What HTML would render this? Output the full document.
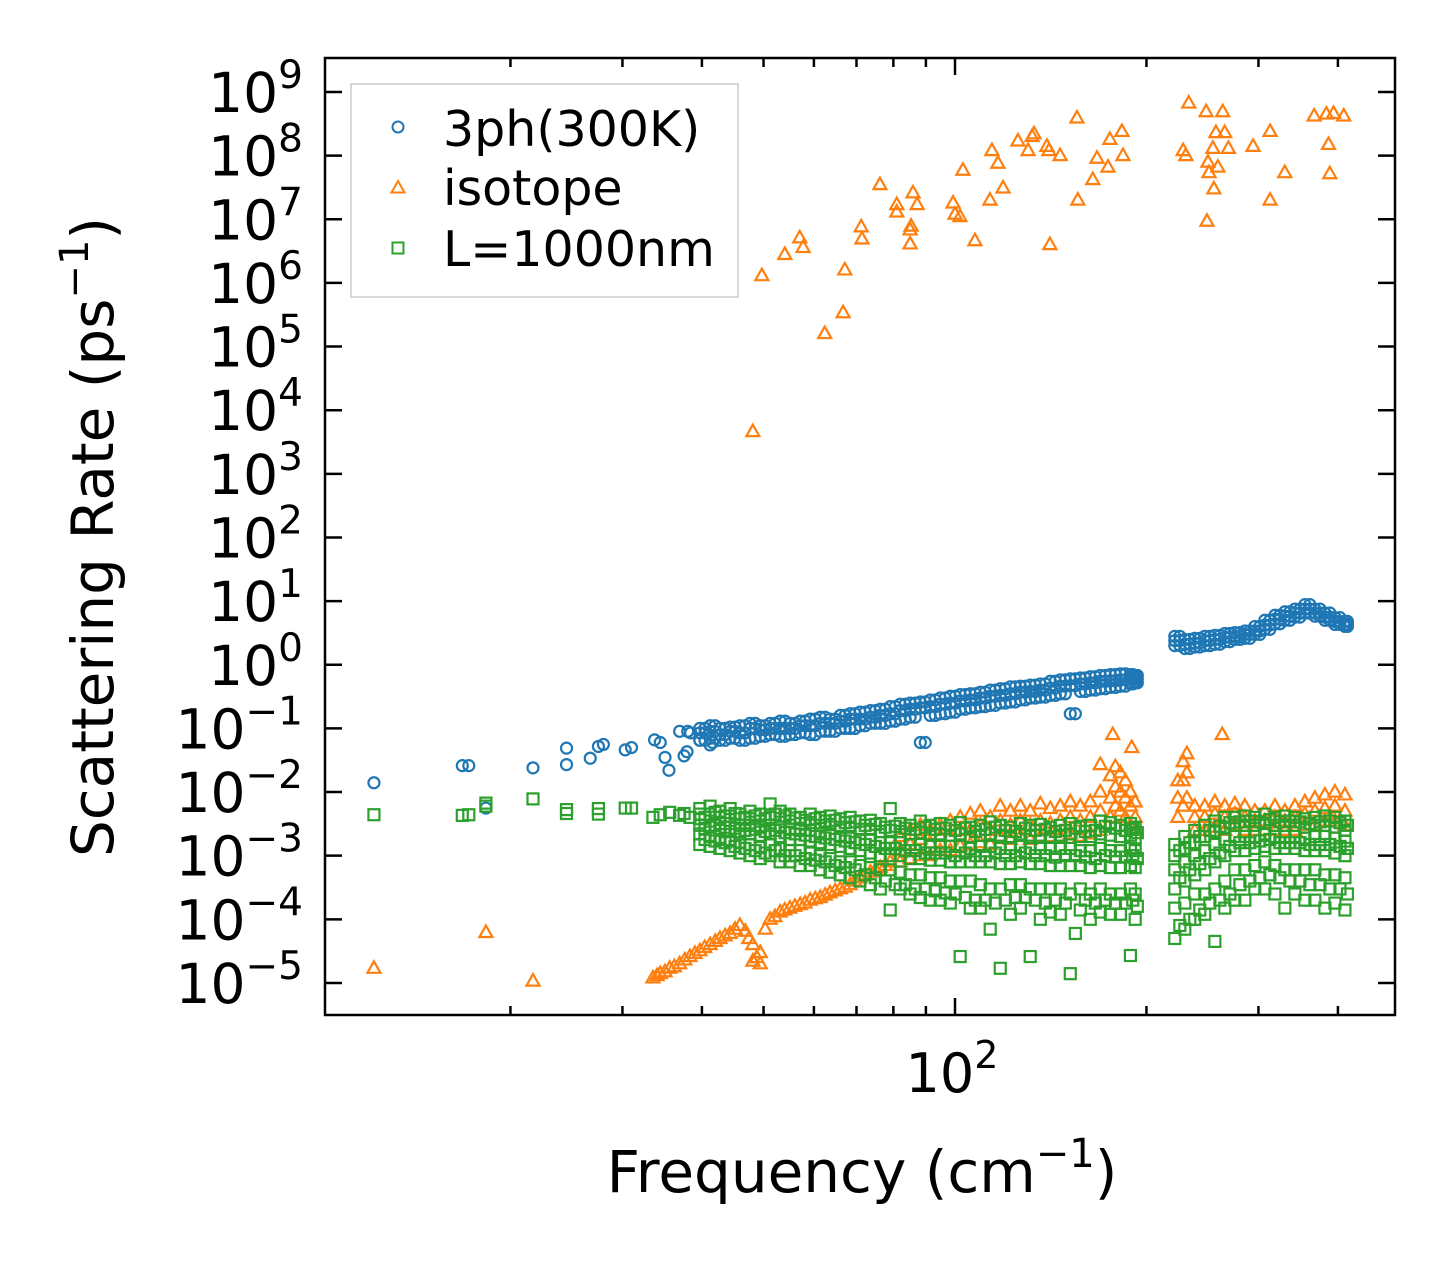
<!DOCTYPE html>
<html><head><meta charset="utf-8"><style>
html,body{margin:0;padding:0;background:#fff;}
svg{display:block;font-family:"DejaVu Sans","Liberation Sans",sans-serif;}
</style></head><body>
<svg id="chart" xmlns="http://www.w3.org/2000/svg" width="1455" height="1265" viewBox="0 0 1455 1265">
<defs><clipPath id="plotclip"><rect x="325" y="58" width="1070" height="957"/></clipPath></defs>
<rect x="0" y="0" width="1455" height="1265" fill="#fff"/>
<g id="marks" clip-path="url(#plotclip)"></g>
<rect x="325" y="58" width="1070" height="957" fill="none" stroke="#000" stroke-width="2.5"/>
<g id="ticks"></g>
<g id="ylabels"></g>
<text x="952" y="1092" font-size="54" text-anchor="middle">10<tspan dy="-24" font-size="38">2</tspan></text>
<text x="862" y="1192" font-size="58" text-anchor="middle">Frequency (cm<tspan dy="-25" font-size="40">−1</tspan><tspan dy="25">)</tspan></text>
<text transform="translate(113,537) rotate(-90)" font-size="58" text-anchor="middle">Scattering Rate (ps<tspan dy="-25" font-size="40">−1</tspan><tspan dy="25">)</tspan></text>
<g>
<rect x="351" y="84" width="387" height="213" fill="#fff" fill-opacity="0.8" stroke="#ccc" stroke-width="1.5"/>
<circle cx="398" cy="127" r="5.5" fill="none" stroke="#1f77b4" stroke-width="2"/>
<text x="443" y="146" font-size="49">3ph(300K)</text>
<polygon points="398,181 404.5,192.5 391.5,192.5" fill="none" stroke="#ff7f0e" stroke-width="2"/>
<text x="443" y="205" font-size="49">isotope</text>
<rect x="392.5" y="242.5" width="11" height="11" fill="none" stroke="#2ca02c" stroke-width="2"/>
<text x="443" y="266" font-size="49">L=1000nm</text>
</g>
</svg>
<script>
// ---- data ----
const yExponents = [-5,-4,-3,-2,-1,0,1,2,3,4,5,6,7,8,9];
const xMinorTicks = [20,30,40,50,60,70,80,90,200,300,400];
const xMajorTicks = [100];

const blueSparseFreq = [12.2,16.8,17.2,18.3,21.7,24.5,24.5,26.7,27.5,28.0,30.3,31.0,33.7,34.4,35.0,35.5,36.9,38.0,38.4,37.5,37.9,39.7,41.2,41.6];
const blueSparseRate = [0.014,0.026,0.026,0.0056,0.024,0.027,0.049,0.034,0.052,0.056,0.046,0.05,0.066,0.06,0.035,0.022,0.09,0.09,0.085,0.037,0.043,0.065,0.055,0.06];

const denseFreq = [39.7,41.2,42.7,44.3,45.9,47.6,49.4,51.2,53.1,55.0,57.1,59.2,61.4,63.6,66.0,68.4,70.9,73.6,76.3,79.1,82.0,85.0,88.2,91.4,94.8,98.3,101.9,105.7,109.6,113.6,117.8,122.2,126.7,131.3,136.2,141.2,146.4,151.8,157.4,163.2,169.2,175.5,182.0,188.7,192.0];
const denseFreqB = [40.45,41.95,43.5,45.1,46.75,48.5,50.3,52.15,54.05,56.05,58.15,60.3,62.5,64.8,67.2,69.65,72.25,74.95,77.7,80.55,83.5,86.6,89.8,93.1,96.55,100.1,103.8,107.65,111.6,115.7,120,124.45,129,133.75,138.7,143.8,149.1,154.6,160.3,166.2,172.35,178.75,185.35,190.35,193.5];
const blueHi  = [0.1,0.11,0.1,0.105,0.11,0.12,0.11,0.12,0.13,0.12,0.13,0.14,0.15,0.14,0.16,0.17,0.18,0.19,0.2,0.22,0.24,0.25,0.26,0.28,0.3,0.32,0.34,0.35,0.37,0.4,0.42,0.45,0.46,0.48,0.5,0.55,0.58,0.6,0.62,0.65,0.68,0.7,0.72,0.7,0.68];
const blueMid = [0.085,0.09,0.08,0.09,0.085,0.1,0.095,0.1,0.1,0.1,0.11,0.11,0.12,0.12,0.13,0.14,0.14,0.15,0.16,0.17,0.19,0.2,0.21,0.22,0.24,0.25,0.27,0.28,0.3,0.32,0.33,0.35,0.37,0.38,0.4,0.43,0.46,0.47,0.5,0.52,0.55,0.56,0.58,0.6,0.6];
const blueLo  = [0.065,0.07,0.065,0.07,0.065,0.07,0.075,0.08,0.075,0.08,0.085,0.08,0.09,0.09,0.1,0.1,0.11,0.12,0.12,0.13,0.14,0.15,0.06,0.16,0.17,0.18,0.2,0.21,0.22,0.23,0.25,0.26,0.28,0.3,0.31,0.33,0.35,0.17,0.38,0.4,0.42,0.44,0.46,0.5,0.52];

const rightFreq = [221.6,229.8,238.2,247.0,256.2,265.6,275.4,285.6,296.1,307.0,318.4,330.1,342.3,354.9,368.0,381.6,395.7,410.3];
const rightFreqB = [225.7,234,242.6,251.6,260.9,270.5,280.5,290.8,301.5,312.7,324.2,336.2,348.6,361.4,374.8,388.6,403,414];
const blueRightHi  = [2.8,2.5,2.6,2.8,2.9,3.1,3.2,3.4,4.0,5.0,6.0,6.8,7.5,8.8,7.5,6.5,5.5,4.8];
const blueRightMid = [2.4,2.1,2.2,2.4,2.5,2.7,2.8,3.0,3.4,4.2,5.2,5.8,6.5,7.5,6.5,5.6,4.8,4.3];
const blueRightLo  = [2.0,1.8,1.9,2.0,2.1,2.3,2.5,2.6,3.0,3.6,4.4,5.0,5.6,6.5,5.8,5.0,4.3,4.0];

const orangeTopFreq = [48.1,49.7,54.0,57.0,57.7,62.4,66.7,67.1,71.2,71.4,76.2,81.0,81.0,85.0,85.0,85.3,85.9,87.2,99.3,100,101.8,102.9,107.5,113.5,114.3,116.8,119,125.6,130.3,132.2,133.1,139.5,140.5,141,146.3,155.5,156,164.7,167.2,174,175.2,183.0,183.7,228.4,230.6,233.1,248.2,249,249.9,250.8,254.4,255.3,257.2,259,263.6,265.5,269.1,294.2,312.9,312.9,330,367,383.6,386.6,388.4,393.7,408.5];
const orangeTopRate = [4.6e3,1.3e6,2.8e6,5.1e6,3.6e6,1.6e5,3.4e5,1.6e6,7.6e6,4.9e6,3.5e7,1.7e7,1.3e7,6.8e6,4.1e6,7.8e6,2.6e7,1.7e7,1.8e7,1.2e7,1.1e7,5.9e7,4.6e6,2e7,1.2e8,7.6e7,3.1e7,1.7e8,1.2e8,2e8,2.2e8,1.4e8,1.2e8,4e6,1e8,3.9e8,2e7,4.2e7,9.1e7,6.6e7,1.8e8,2.4e8,1e8,1.2e8,1e8,6.7e8,4.9e8,9.3e6,7.9e7,5.4e7,1.3e8,3e7,2.3e8,6.6e7,4.9e8,2.3e8,1.3e8,1.4e8,2e7,2.4e8,5.4e7,4.2e8,4.5e8,1.5e8,5.2e7,4.6e8,4.2e8];

const orangeLowFreq = [12.2,18.3,21.7,33.5,34.0,34.4,35.0,35.6,36.2,36.9,37.6,38.3,39.0,39.7,40.4,41.2,42.0,42.7,43.5,44.3,45.1,45.9,46.8,47.4,48.1,48.1,48.8,49.4,49.4,50.3,51.2,52.1,53.1,54.0,55.0,56.0,57.1,58.1,59.2,60.3,61.4,62.5,63.6,64.8,66.0,67.2,68.4,69.6,70.9,72.2,73.6,75.0,76.3,77.7,79.1,169.2,177,189.6,263.1];
const orangeLowRate = [1.7e-5,6.2e-5,1.07e-5,1.2e-5,1.3e-5,1.4e-5,1.5e-5,1.7e-5,1.8e-5,2e-5,2.3e-5,2.6e-5,2.9e-5,3.2e-5,3.6e-5,4e-5,4.5e-5,5e-5,5.5e-5,6e-5,7e-5,8e-5,6.5e-5,5e-5,4e-5,2.2e-5,2.5e-5,3e-5,2e-5,7e-5,1e-4,1.1e-4,1.3e-4,1.4e-4,1.5e-4,1.6e-4,1.7e-4,1.8e-4,2e-4,2.1e-4,2.2e-4,2.4e-4,2.6e-4,2.8e-4,3e-4,3.2e-4,3.5e-4,4e-4,4.5e-4,5e-4,5.5e-4,6e-4,6.5e-4,7e-4,8e-4,2.7e-2,8e-2,5e-2,8e-2];

const orangeBandFreq = [82.0,85.0,88.2,91.4,94.8,98.3,101.9,105.7,109.6,113.6,117.8,122.2,126.7,131.3,136.2,141.2,146.4,151.8,157.4,163.2,169.2,175.5,178.7,182.0,185.3,188.7,192.0,224,228.4,231.5,238.2,247.0,256.2,265.6,275.4,285.6,296.1,307.0,318.4,330.1,342.3,354.9,368.0,381.6,395.7,410.3];
const orangeBandHi  = [2e-3,2.5e-3,3e-3,2.5e-3,3e-3,3.5e-3,4e-3,4.5e-3,5e-3,4e-3,6e-3,5e-3,6e-3,5e-3,6.5e-3,5.5e-3,6e-3,7e-3,6e-3,7e-3,1e-2,1.8e-2,2.5e-2,2e-2,1.5e-2,1e-2,7e-3,1.5e-2,3e-2,4e-2,6e-3,6e-3,7e-3,6e-3,6.5e-3,6e-3,5e-3,5e-3,6e-3,5e-3,6e-3,7e-3,8e-3,9e-3,1e-2,9e-3];
const orangeBandMid = [1.2e-3,1.5e-3,1.8e-3,1.6e-3,2e-3,2e-3,2.5e-3,2.5e-3,3e-3,2.5e-3,3.5e-3,3e-3,3.5e-3,3e-3,3.5e-3,3.2e-3,3.5e-3,4e-3,3.5e-3,4e-3,5e-3,8e-3,1.2e-2,1e-2,8e-3,6e-3,4e-3,8e-3,1.5e-2,2e-2,4e-3,4e-3,4.5e-3,4e-3,4.5e-3,4e-3,3.5e-3,3.5e-3,4e-3,3.5e-3,4e-3,4.5e-3,5e-3,5.5e-3,6e-3,5e-3];
const orangeBandLo  = [8e-4,9e-4,1e-3,1e-3,1.2e-3,1.2e-3,1.4e-3,1.5e-3,1.6e-3,1.5e-3,2e-3,1.8e-3,2e-3,1.8e-3,2e-3,2e-3,2e-3,2.2e-3,2e-3,2.2e-3,2.5e-3,4e-3,6e-3,5e-3,4e-3,3e-3,2.5e-3,4e-3,6e-3,8e-3,2.5e-3,2.5e-3,2.8e-3,2.5e-3,3e-3,2.5e-3,2.5e-3,2.5e-3,2.5e-3,2.5e-3,2.5e-3,3e-3,3e-3,3.5e-3,3.5e-3,3e-3];

const greenSparseFreq = [12.2,16.8,17.2,18.3,18.3,21.7,24.5,24.5,27.5,27.5,30.3,31.0,33.5,34.4,35.6,36.9,37.5,38.3];
const greenSparseRate = [4.4e-3,4.3e-3,4.4e-3,6.7e-3,6e-3,7.8e-3,5.3e-3,4.6e-3,5.5e-3,4.5e-3,5.6e-3,5.6e-3,4e-3,4.4e-3,4.8e-3,4.3e-3,4.6e-3,4e-3];

const greenDenseFreq = denseFreq.concat(rightFreq);
const greenDenseFreqB = denseFreqB.concat(rightFreqB);
const greenRows = [
[5.5e-3,4.5e-3,3.8e-3,3e-3,2.2e-3,1.5e-3],[6e-3,4.5e-3,3.5e-3,2.8e-3,2e-3,1.4e-3],[5e-3,4e-3,3.2e-3,2.5e-3,1.8e-3,1.3e-3],
[5.5e-3,4.2e-3,3.2e-3,2.4e-3,1.7e-3,1.2e-3],[4.5e-3,3.8e-3,3e-3,2.2e-3,1.6e-3,1.1e-3],[5e-3,3.8e-3,3e-3,2.2e-3,1.5e-3,1e-3],
[4.5e-3,3.5e-3,2.8e-3,2e-3,1.4e-3,9e-4],[6.5e-3,4e-3,3e-3,2.2e-3,1.5e-3,1e-3],[5e-3,3.8e-3,2.8e-3,2e-3,1.3e-3,8e-4],
[4.5e-3,3.5e-3,2.6e-3,1.8e-3,1.2e-3,8e-4],[4e-3,3.2e-3,2.5e-3,1.8e-3,1.2e-3,7e-4],[4.5e-3,3.3e-3,2.5e-3,1.7e-3,1.1e-3,7e-4],
[4e-3,3e-3,2.2e-3,1.6e-3,1e-3,6e-4],[4.2e-3,3.1e-3,2.2e-3,1.5e-3,9e-4,5.5e-4],[3.8e-3,2.8e-3,2e-3,1.4e-3,8e-4,5e-4],
[4e-3,2.8e-3,2e-3,1.3e-3,8e-4,4.5e-4],[3.5e-3,2.6e-3,1.8e-3,1.2e-3,7e-4,4e-4],[3.6e-3,2.6e-3,1.8e-3,1.1e-3,6.5e-4,3.5e-4],
[3.2e-3,2.4e-3,1.6e-3,1e-3,6e-4,3e-4],[5.5e-3,2.5e-3,1.6e-3,1e-3,6e-4,1.4e-4],[3.2e-3,2.4e-3,1.6e-3,1e-3,5.5e-4,3e-4],
[3e-3,2.2e-3,1.5e-3,9e-4,5e-4,2.5e-4],[3.5e-3,2.3e-3,1.5e-3,9e-4,5e-4,2.2e-4],[3e-3,2.2e-3,1.4e-3,8.5e-4,4.5e-4,2e-4],
[3.2e-3,2.2e-3,1.4e-3,8.5e-4,4.5e-4,2e-4],[3e-3,2.1e-3,1.4e-3,8e-4,4e-4,1.8e-4],[3.3e-3,2.2e-3,1.4e-3,8e-4,4e-4,2.6e-5],
[2.8e-3,2e-3,1.3e-3,8e-4,4e-4,1.5e-4],[3e-3,2.1e-3,1.4e-3,8e-4,3.5e-4,1.5e-4],[3.4e-3,2.2e-3,1.4e-3,8e-4,3e-4,7e-5],
[3e-3,2.1e-3,1.3e-3,7.5e-4,3e-4,1.7e-5],[2.8e-3,2e-3,1.3e-3,7.5e-4,3.5e-4,1.2e-4],[3.2e-3,2.2e-3,1.4e-3,8e-4,3.5e-4,1.5e-4],
[3e-3,2.1e-3,1.3e-3,7.5e-4,3e-4,2.6e-5],[3.1e-3,2.1e-3,1.3e-3,7.5e-4,3e-4,1e-4],[2.8e-3,2e-3,1.3e-3,7e-4,3e-4,1.3e-4],
[3e-3,2.1e-3,1.3e-3,7e-4,3e-4,1.2e-4],[3.2e-3,2.2e-3,1.3e-3,7e-4,2.5e-4,1.4e-5],[2.9e-3,2e-3,1.2e-3,7e-4,3e-4,1.4e-4],
[3e-3,2e-3,1.2e-3,6.5e-4,2.5e-4,1e-4],[3.5e-3,2.2e-3,1.3e-3,7e-4,3e-4,1.3e-4],[3.3e-3,2.1e-3,1.2e-3,6.5e-4,2.5e-4,1.2e-4],
[3e-3,2e-3,1.2e-3,6.5e-4,2.5e-4,1.2e-4],[3.2e-3,2.1e-3,1.3e-3,7e-4,3e-4,2.7e-5],[2.8e-3,1.9e-3,1.2e-3,6.5e-4,2.5e-4,1e-4],
[1.5e-3,1e-3,6e-4,3e-4,1.5e-4,5e-5],[2e-3,1.3e-3,8e-4,4e-4,1.8e-4,7e-5],[2.5e-3,1.6e-3,1e-3,5e-4,2.5e-4,1e-4],
[3e-3,2e-3,1.2e-3,6e-4,2.5e-4,1.2e-4],[3.5e-3,2.4e-3,1.5e-3,8e-4,3e-4,4.5e-5],[4e-3,2.8e-3,1.8e-3,1e-3,4e-4,1.5e-4],
[4e-3,3e-3,2e-3,1.2e-3,6e-4,2e-4],[4.2e-3,3e-3,2e-3,1.2e-3,6e-4,2e-4],[4e-3,3e-3,2e-3,1.3e-3,7e-4,3e-4],
[4.5e-3,3.2e-3,2.2e-3,1.4e-3,8e-4,3e-4],[4e-3,3e-3,2e-3,1.3e-3,7e-4,2.5e-4],[4.2e-3,3e-3,2e-3,1.3e-3,6e-4,1.5e-4],
[4e-3,3e-3,2e-3,1.3e-3,6e-4,2.5e-4],[3.8e-3,2.8e-3,1.9e-3,1.2e-3,6e-4,2e-4],[4e-3,3e-3,2e-3,1.2e-3,6e-4,2e-4],
[4.2e-3,3e-3,2e-3,1.2e-3,5e-4,1.5e-4],[4e-3,2.8e-3,1.9e-3,1.1e-3,5e-4,1.8e-4],[3.5e-3,2.5e-3,1.7e-3,1e-3,4.5e-4,1.4e-4]
];
// second, interleaved green sample set (mid-band values)
const greenMidRows = [
[4e-3,2.6e-3,1.8e-3],[4.8e-3,3e-3,1.7e-3],[4.2e-3,2.8e-3,1.6e-3],[4.6e-3,2.7e-3,1.4e-3],[4e-3,2.5e-3,1.3e-3],[4.2e-3,2.6e-3,1.2e-3],
[3.8e-3,2.4e-3,1.1e-3],[4.5e-3,2.5e-3,1.2e-3],[4.2e-3,2.3e-3,1e-3],[3.9e-3,2.2e-3,1e-3],[3.6e-3,2.1e-3,9e-4],[3.8e-3,2e-3,8.5e-4],
[3.5e-3,1.9e-3,8e-4],[3.6e-3,1.8e-3,7e-4],[3.3e-3,1.7e-3,6.5e-4],[3.4e-3,1.6e-3,6e-4],[3e-3,1.5e-3,5e-4],[3.1e-3,1.4e-3,4.5e-4],
[2.8e-3,1.3e-3,4e-4],[2.9e-3,1.3e-3,3.5e-4],[2.7e-3,1.2e-3,3.5e-4],[2.6e-3,1.2e-3,3e-4],[2.8e-3,1.1e-3,3e-4],[2.6e-3,1.1e-3,2.8e-4],
[2.7e-3,1.1e-3,2.6e-4],[2.5e-3,1e-3,2.5e-4],[2.7e-3,1.1e-3,2.2e-4],[2.4e-3,1e-3,2e-4],[2.6e-3,1e-3,2e-4],[2.8e-3,1.1e-3,1.8e-4],
[2.5e-3,1e-3,2e-4],[2.4e-3,1e-3,2.2e-4],[2.7e-3,1.1e-3,2.2e-4],[2.5e-3,1e-3,2e-4],[2.6e-3,1e-3,1.8e-4],[2.4e-3,9.5e-4,2e-4],
[2.5e-3,1e-3,1.8e-4],[2.7e-3,1e-3,6e-5],[2.4e-3,9.5e-4,2e-4],[2.5e-3,9e-4,1.8e-4],[2.9e-3,1e-3,2e-4],[2.7e-3,9.5e-4,1.8e-4],
[2.5e-3,9.5e-4,1.8e-4],[2.6e-3,1e-3,2e-4],[2.3e-3,9e-4,1.6e-4],
[1.2e-3,4.5e-4,8e-5],[1.6e-3,6e-4,1e-4],[2e-3,7.5e-4,1.4e-4],[2.5e-3,9e-4,1.8e-4],[2.9e-3,1.1e-3,2e-4],[3.3e-3,1.4e-3,2.5e-4],
[3.4e-3,1.6e-3,3.5e-4],[3.5e-3,1.6e-3,4e-4],[3.4e-3,1.7e-3,4.5e-4],[3.7e-3,1.8e-3,5e-4],[3.4e-3,1.6e-3,4.5e-4],[3.5e-3,1.6e-3,4e-4],
[3.4e-3,1.6e-3,4e-4],[3.2e-3,1.5e-3,3.5e-4],[3.4e-3,1.5e-3,3.5e-4],[3.5e-3,1.5e-3,3e-4],[3.3e-3,1.4e-3,3e-4],[3e-3,1.3e-3,2.5e-4]
];

// ---- axes ----
const NS = "http://www.w3.org/2000/svg";
function xScale(f){ return 955 + 636 * Math.log10(f / 100); }
function yScale(r){ return 92 + 63.64 * (9 - Math.log10(r)); }

const marks = document.getElementById('marks');
const ticks = document.getElementById('ticks');
const ylabels = document.getElementById('ylabels');
const C_BLUE = '#1f77b4', C_ORANGE = '#ff7f0e', C_GREEN = '#2ca02c';

function circle(f, r, name){
  const el = document.createElementNS(NS, 'circle');
  el.setAttribute('cx', xScale(f)); el.setAttribute('cy', yScale(r)); el.setAttribute('r', 5.5);
  el.setAttribute('fill', 'none'); el.setAttribute('stroke', C_BLUE); el.setAttribute('stroke-width', 2.2);
  
  
  marks.appendChild(el);
}
function tri(f, r, name){
  const x = xScale(f), y = yScale(r);
  const el = document.createElementNS(NS, 'polygon');
  el.setAttribute('points', `${x},${y-7} ${x+6.5},${y+4.5} ${x-6.5},${y+4.5}`);
  el.setAttribute('fill', 'none'); el.setAttribute('stroke', C_ORANGE); el.setAttribute('stroke-width', 2.2);
  
  
  marks.appendChild(el);
}
function sq(f, r, name){
  const x = xScale(f), y = yScale(r);
  const el = document.createElementNS(NS, 'rect');
  el.setAttribute('x', x - 5.5); el.setAttribute('y', y - 5.5); el.setAttribute('width', 11); el.setAttribute('height', 11);
  el.setAttribute('fill', 'none'); el.setAttribute('stroke', C_GREEN); el.setAttribute('stroke-width', 2.2);
  
  
  marks.appendChild(el);
}

// 3ph series
blueSparseFreq.forEach((f,i)=>circle(f, blueSparseRate[i], '3ph-point'));
[denseFreq, denseFreqB].forEach(fr=>fr.forEach((f,i)=>{ circle(f, blueHi[i], '3ph-point'); circle(f, blueMid[i], '3ph-point'); circle(f, blueLo[i], '3ph-point'); }));
[rightFreq, rightFreqB].forEach(fr=>fr.forEach((f,i)=>{ circle(f, blueRightHi[i], '3ph-point'); circle(f, blueRightMid[i], '3ph-point'); circle(f, blueRightLo[i], '3ph-point'); }));
// isotope series
orangeTopFreq.forEach((f,i)=>tri(f, orangeTopRate[i], 'isotope-point'));
orangeLowFreq.forEach((f,i)=>tri(f, orangeLowRate[i], 'isotope-point'));
orangeBandFreq.forEach((f,i)=>{ tri(f, orangeBandHi[i], 'isotope-point'); tri(f, orangeBandMid[i], 'isotope-point'); tri(f, orangeBandLo[i], 'isotope-point'); });
// boundary series
greenSparseFreq.forEach((f,i)=>sq(f, greenSparseRate[i], 'boundary-point'));
greenDenseFreq.forEach((f,i)=>{ greenRows[i].forEach(r=>sq(f, r, 'boundary-point')); });
greenDenseFreqB.forEach((f,i)=>{ greenMidRows[i].forEach(r=>sq(f, r, 'boundary-point')); });

function line(x1,y1,x2,y2,name){
  const el = document.createElementNS(NS, 'line');
  el.setAttribute('x1', x1); el.setAttribute('y1', y1); el.setAttribute('x2', x2); el.setAttribute('y2', y2);
  el.setAttribute('stroke', '#000'); el.setAttribute('stroke-width', 2.5);
  
  
  ticks.appendChild(el);
}
yExponents.forEach(e=>{
  const y = yScale(Math.pow(10, e));
  line(325, y, 342, y, 'y-tick');
  line(1395, y, 1378, y, 'y-tick-right');
  const t = document.createElementNS(NS, 'text');
  t.setAttribute('x', 303); t.setAttribute('y', y + 20);
  t.setAttribute('font-size', 55); t.setAttribute('text-anchor', 'end');
  
  
  const s = document.createElementNS(NS, 'tspan');
  s.setAttribute('dy', -24); s.setAttribute('font-size', 39);
  s.textContent = (e < 0 ? '−' + (-e) : String(e));
  t.appendChild(document.createTextNode('10'));
  t.appendChild(s);
  ylabels.appendChild(t);
});
xMinorTicks.forEach(f=>{
  const x = xScale(f);
  line(x, 1015, x, 1006, 'x-minor-tick');
  line(x, 58, x, 67, 'x-minor-tick-top');
});
xMajorTicks.forEach(f=>{
  const x = xScale(f);
  line(x, 1015, x, 998, 'x-major-tick');
  line(x, 58, x, 75, 'x-major-tick-top');
});
</script>
</body></html>
